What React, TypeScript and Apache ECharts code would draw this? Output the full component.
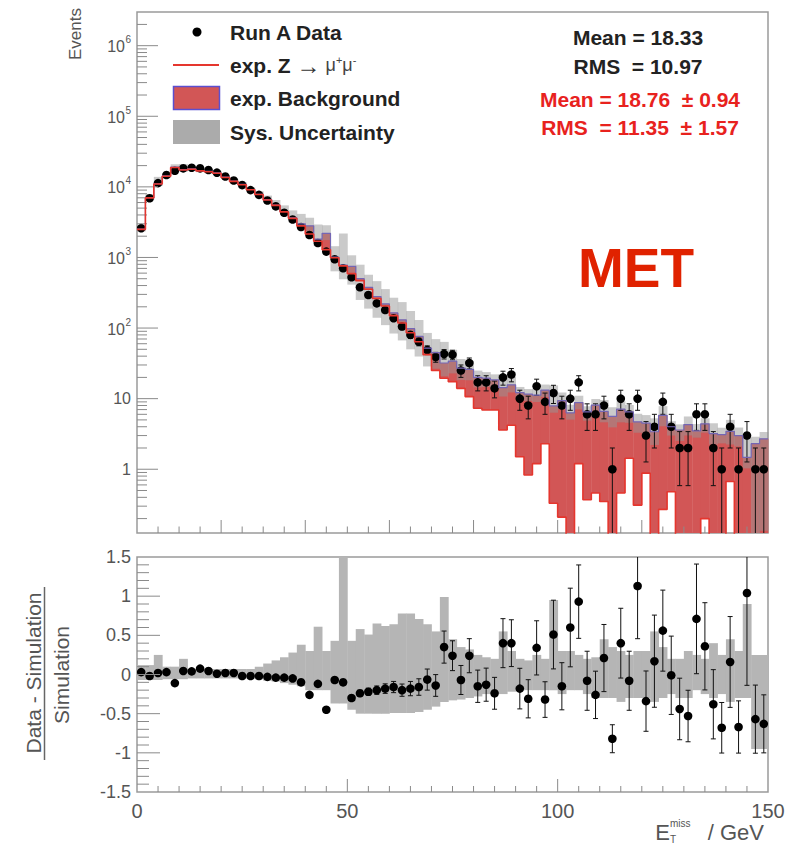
import React, { useEffect, useRef } from 'react';
import * as echarts from 'echarts';

// ---------------- data (75 bins of 2 GeV, 0..150 GeV) ----------------
const BIN_WIDTH = 2;
const X_MIN = 0;
const X_MAX = 150;
const Y_MIN = 0.125;
const Y_MAX = 3e6;
const R_MIN = -1.5;
const R_MAX = 1.5;

const dataCounts = [
  2600, 6900, 11300, 14700, 16900, 18300, 18700, 18300, 17300, 15900,
  14000, 12300, 10600, 9000, 7700, 6400, 5300, 4300, 3450, 2700,
  2080, 1600, 1210, 943, 703, 524, 378, 294, 224, 180,
  138, 105, 80, 64, 49, 39, 43, 42, 25, 32,
  17, 17, 14, 20, 22, 10, 8, 15, 9, 12,
  8, 10, 17, 6, 6, 8, 1, 10, 6, 10,
  3, 4, 9, 4, 2, 2, 6, 6, 2, 1,
  4, 1, 3, 1, 1,
];

// total expectation (Z + background)
const mcTotal = [
  2520, 7040, 11080, 14270, 18990, 17510, 17980, 17020, 16560, 15740,
  13730, 12060, 10820, 9180, 7860, 6600, 5520, 4480, 3630, 3000,
  2810, 1820, 2200, 1010, 780, 750, 500, 377, 280, 220,
  164, 131, 98, 76, 52, 45, 32, 34, 27, 26,
  20, 19.5, 18.4, 14.3, 15.7, 12.2, 11.6, 11.2, 13.2, 7.9,
  9.4, 6.3, 8.8, 6.5, 8.1, 6.6, 5.6, 7.1, 6.5, 4.7,
  4.5, 3.4, 5.8, 4.0, 3.6, 4.3, 3.5, 4.4, 3.2, 3.1,
  3.45, 3.0, 1.47, 2.3, 2.7,
];

// Z -> mu mu expectation alone
const zmumu = [
  2500, 6980, 10980, 14150, 18800, 17350, 17800, 16850, 16400, 15600,
  13600, 11950, 10700, 9100, 7780, 6530, 5460, 4420, 3580, 2800,
  2150, 1700, 1290, 990, 760, 590, 470, 355, 262, 205,
  150, 118, 86, 64, 42, 25, 19.5, 17.4, 14, 10.7,
  7.3, 6.9, 6.9, 3.6, 4.2, 1.5, 0.83, 1.2, 2.3, 0.33,
  0.21, 0, 1.2, 0.37, 0.46, 0.35, 0, 0.46, 1.43, 0.31,
  0.88, 0, 0.27, 0.48, 0, 0, 0, 0.2, 0, 0,
  0.67, 0, 0, 0, 0,
];

// (Data - Simulation) / Simulation
const ratioValues = [
  0.03, -0.02, 0.02, 0.03, -0.11, 0.045, 0.04, 0.075, 0.045, 0.01,
  0.02, 0.02, -0.02, -0.02, -0.02, -0.03, -0.04, -0.04, -0.05, -0.1,
  -0.26, -0.12, -0.45, -0.07, -0.1, -0.3, -0.24, -0.22, -0.2, -0.18,
  -0.16, -0.2, -0.18, -0.16, -0.065, -0.14, 0.35, 0.24, -0.07, 0.24,
  -0.15, -0.13, -0.24, 0.4, 0.4, -0.18, -0.31, 0.34, -0.32, 0.51,
  -0.15, 0.6, 0.93, -0.08, -0.26, 0.21, -0.82, 0.4, -0.08, 1.13,
  -0.34, 0.17, 0.56, -0.01, -0.44, -0.53, 0.71, 0.36, -0.38, -0.68,
  0.16, -0.67, 1.04, -0.57, -0.63,
];

// relative systematic uncertainty (upper / lower)
const sysUp = [
  0.12, 0.12, 0.25, 0.1, 0.1, 0.2, 0.07, 0.07, 0.07, 0.07,
  0.07, 0.07, 0.07, 0.07, 0.1, 0.14, 0.18, 0.22, 0.28, 0.38,
  0.3, 0.61, 0.3, 0.43, 1.8, 0.43, 0.58, 0.51, 0.65, 0.62,
  0.64, 0.78, 0.78, 0.71, 0.64, 0.55, 0.99, 0.45, 0.35, 0.32,
  0.25, 0.22, 0.2, 0.55, 0.3, 0.2, 0.18, 0.25, 0.2, 0.95,
  0.3, 0.3, 0.25, 0.2, 0.22, 0.45, 0.35, 0.3, 0.25, 0.3,
  0.3, 0.55, 0.35, 0.2, 0.2, 0.3, 0.25, 0.2, 0.4, 0.25,
  0.45, 0.3, 0.9, 0.25, 0.25,
];
const sysDown = [
  -0.07, -0.07, -0.07, -0.06, -0.06, -0.06, -0.05, -0.05, -0.05, -0.05,
  -0.05, -0.05, -0.05, -0.05, -0.06, -0.08, -0.09, -0.11, -0.13, -0.15,
  -0.2, -0.2, -0.2, -0.37, -0.37, -0.45, -0.5, -0.5, -0.5, -0.5,
  -0.49, -0.49, -0.49, -0.48, -0.45, -0.41, -0.35, -0.33, -0.32, -0.3,
  -0.28, -0.25, -0.24, -0.25, -0.22, -0.2, -0.2, -0.2, -0.2, -0.2,
  -0.25, -0.2, -0.2, -0.25, -0.3, -0.3, -0.3, -0.35, -0.3, -0.3,
  -0.3, -0.35, -0.3, -0.25, -0.3, -0.3, -0.2, -0.25, -0.3, -0.25,
  -0.35, -0.3, -0.3, -0.95, -0.95,
];

const topYLabels = [1, 10, 100, 1000, 10000, 100000, 1000000];
const legendLabels = ['Run A Data', 'exp. Z', 'exp. Background', 'Sys. Uncertainty'];
const statsData = ['Mean = 18.33', 'RMS  = 10.97'];
const statsSim = ['Mean = 18.76  \u00b1 0.94', 'RMS  = 11.35  \u00b1 1.57'];
const panelTag = 'MET';

// ---------------- styling ----------------
const FONT = '"Liberation Sans", Arial, Helvetica, sans-serif';
const LABEL_COLOR = '#555';
const TICK_COLOR = '#8a8a8a';
const FRAME_COLOR = '#9a9a9a';
const RED_FILL = '#d25656';
const RED_LINE = '#e5362e';
const TOTAL_LINE = '#7466b4';
const STAT_RED = '#e8221e';

const binLow = (i: number) => X_MIN + i * BIN_WIDTH;
const binCenter = (i: number) => binLow(i) + BIN_WIDTH / 2;
const clampLog = (v: number) => Math.min(Math.max(v, Y_MIN), Y_MAX);
const clampR = (v: number) => Math.min(Math.max(v, R_MIN), R_MAX);

const binRect = (fill: string) => (_p: any, api: any) => {
  const x0 = api.value(0);
  const lo = api.value(1);
  const hi = api.value(2);
  const a = api.coord([x0, lo]);
  const b = api.coord([x0 + BIN_WIDTH, hi]);
  const h = a[1] - b[1];
  if (!(h > 0)) return { type: 'group', children: [] };
  return {
    type: 'rect',
    shape: { x: a[0], y: b[1], width: b[0] - a[0] + 0.4, height: h },
    style: { fill },
  };
};

const pointItem = (lowLimit: number, highLimit: number) => (_p: any, api: any) => {
  const x = api.value(0);
  const y = api.value(1);
  const e = api.value(2);
  const loRaw = y - e;
  const hiRaw = y + e;
  const lo = Math.max(loRaw, lowLimit);
  const hi = Math.min(hiRaw, highLimit);
  const c = api.coord([x, Math.min(Math.max(y, lowLimit), highLimit)]);
  const pl = api.coord([x, lo]);
  const ph = api.coord([x, hi]);
  const stroke = { stroke: '#111', lineWidth: 1 };
  const children: any[] = [
    { type: 'line', shape: { x1: c[0], y1: pl[1], x2: c[0], y2: ph[1] }, style: stroke },
  ];
  if (loRaw > lowLimit) children.push({ type: 'line', shape: { x1: c[0] - 2.5, y1: pl[1], x2: c[0] + 2.5, y2: pl[1] }, style: stroke });
  if (hiRaw < highLimit) children.push({ type: 'line', shape: { x1: c[0] - 2.5, y1: ph[1], x2: c[0] + 2.5, y2: ph[1] }, style: stroke });
  children.push({ type: 'circle', shape: { cx: c[0], cy: c[1], r: 4.3 }, style: { fill: '#000' } });
  return { type: 'group', children };
};

const tickItem = (_p: any, api: any) => {
  const p = api.coord([api.value(0), api.value(1)]);
  return {
    type: 'line',
    shape: { x1: p[0], y1: p[1], x2: p[0] + api.value(2), y2: p[1] + api.value(3) },
    style: { stroke: TICK_COLOR, lineWidth: 1 },
  };
};

const txt = (o: any) => ({
  fontFamily: FONT,
  align: o.align,
  textAlign: o.align,
  verticalAlign: o.verticalAlign || 'middle',
  textVerticalAlign: o.verticalAlign || 'middle',
  ...o,
});

function buildOption() {
  const n = dataCounts.length;
  const idx = Array.from({ length: n }, (_, i) => i);

  const stepData = (vals: number[]) => {
    const pts: number[][] = vals.map((v, i) => [binLow(i), Math.max(v, 0.01)]);
    pts.push([binLow(n), Math.max(vals[n - 1], 0.01)]);
    return pts;
  };

  const topTicks: number[][] = [];
  for (let e = -1; e <= 6; e++) {
    const dec = Math.pow(10, e);
    for (let m = 1; m <= 9; m++) {
      const v = dec * m;
      if (v <= Y_MIN || v >= Y_MAX) continue;
      topTicks.push([X_MIN, v, m === 1 ? 21 : 10, 0]);
    }
  }
  for (let k = 1; k < 30; k++) {
    const v = k * 5;
    topTicks.push([v, Y_MIN, 0, v % 20 === 0 ? -13 : -6.5]);
  }
  const botTicks: number[][] = [];
  for (let k = -14; k <= 14; k++) {
    botTicks.push([X_MIN, k / 10, k % 5 === 0 ? 23 : 12, 0]);
  }
  for (let k = 1; k < 30; k++) {
    const v = k * 5;
    botTicks.push([v, R_MIN, 0, v % 50 === 0 ? -13 : -6]);
  }

  const topLabelItem = (_p: any, api: any) => {
    const v = api.value(1);
    const p = api.coord([X_MIN, v]);
    const ex = Math.round(Math.log10(v));
    if (ex <= 1) {
      return {
        type: 'text',
        style: txt({ text: String(v), x: p[0] - 6, y: p[1], align: 'right', fill: LABEL_COLOR, fontSize: 16 }),
      };
    }
    return {
      type: 'group',
      children: [
        { type: 'text', style: txt({ text: '10', x: p[0] - 12, y: p[1] + 1, align: 'right', fill: LABEL_COLOR, fontSize: 16 }) },
        { type: 'text', style: txt({ text: String(ex), x: p[0] - 6, y: p[1] - 6, align: 'right', fill: LABEL_COLOR, fontSize: 10 }) },
      ],
    };
  };

  const graphic: any[] = [
    // legend
    { type: 'circle', shape: { cx: 197, cy: 32, r: 4.5 }, style: { fill: '#000' } },
    { type: 'text', style: txt({ text: legendLabels[0], x: 230, y: 32, align: 'left', fill: '#222', fontSize: 21, fontWeight: 'bold' }) },
    { type: 'line', shape: { x1: 173, y1: 65, x2: 219, y2: 65 }, style: { stroke: RED_LINE, lineWidth: 2 } },
    {
      type: 'text',
      style: txt({
        text: '{b|' + legendLabels[1] + ' }{a|\u2192}{n| \u03bc}{s|+}{n|\u03bc}{s|-}',
        x: 230, y: 65, align: 'left', fill: '#222', fontSize: 21,
        rich: {
          b: { fontSize: 21, fontWeight: 'bold', fontFamily: FONT, fill: '#222', lineHeight: 22 },
          a: { fontSize: 24, fontFamily: FONT, fill: '#333', lineHeight: 22 },
          n: { fontSize: 18, fontFamily: FONT, fill: '#444', lineHeight: 22 },
          s: { fontSize: 11, fontFamily: FONT, fill: '#444', lineHeight: 12, verticalAlign: 'top' },
        },
      }),
    },
    { type: 'rect', shape: { x: 173.5, y: 86.5, width: 46, height: 23 }, style: { fill: RED_FILL, stroke: '#5b4fd0', lineWidth: 1.5 } },
    { type: 'text', style: txt({ text: legendLabels[2], x: 230, y: 98, align: 'left', fill: '#222', fontSize: 21, fontWeight: 'bold' }) },
    { type: 'rect', shape: { x: 173, y: 120, width: 47, height: 24 }, style: { fill: '#ababab' } },
    { type: 'text', style: txt({ text: legendLabels[3], x: 230, y: 132, align: 'left', fill: '#222', fontSize: 21, fontWeight: 'bold' }) },
    // stats
    { type: 'text', style: txt({ text: statsData[0], x: 638, y: 37, align: 'center', fill: '#222', fontSize: 21, fontWeight: 'bold' }) },
    { type: 'text', style: txt({ text: statsData[1], x: 638, y: 66, align: 'center', fill: '#222', fontSize: 21, fontWeight: 'bold' }) },
    { type: 'text', style: txt({ text: statsSim[0], x: 640, y: 99, align: 'center', fill: STAT_RED, fontSize: 21, fontWeight: 'bold' }) },
    { type: 'text', style: txt({ text: statsSim[1], x: 640, y: 127, align: 'center', fill: STAT_RED, fontSize: 21, fontWeight: 'bold' }) },
    // tag
    { type: 'text', style: txt({ text: panelTag, x: 636, y: 268, align: 'center', fill: '#e02200', fontSize: 55, fontWeight: 'bold' }) },
    // axis titles
    { type: 'text', x: 75, y: 8, rotation: Math.PI / 2, style: txt({ text: 'Events', x: 0, y: 0, align: 'right', fill: LABEL_COLOR, fontSize: 17 }) },
    { type: 'text', x: 33, y: 673, rotation: Math.PI / 2, style: txt({ text: 'Data - Simulation', x: 0, y: 0, align: 'center', fill: LABEL_COLOR, fontSize: 21 }) },
    { type: 'line', shape: { x1: 44.5, y1: 587, x2: 44.5, y2: 760 }, style: { stroke: '#666', lineWidth: 1.5 } },
    { type: 'text', x: 61, y: 675, rotation: Math.PI / 2, style: txt({ text: 'Simulation', x: 0, y: 0, align: 'center', fill: LABEL_COLOR, fontSize: 21 }) },
    { type: 'text', style: txt({ text: 'E', x: 670, y: 832, align: 'right', fill: LABEL_COLOR, fontSize: 22 }) },
    { type: 'text', style: txt({ text: 'miss', x: 670, y: 823, align: 'left', fill: LABEL_COLOR, fontSize: 10 }) },
    { type: 'text', style: txt({ text: 'T', x: 670, y: 839, align: 'left', fill: LABEL_COLOR, fontSize: 10 }) },
    { type: 'text', style: txt({ text: '/ GeV', x: 764, y: 832, align: 'right', fill: LABEL_COLOR, fontSize: 22 }) },
  ];

  return {
    animation: false,
    backgroundColor: '#fff',
    grid: [
      { left: 137, top: 12, width: 631, height: 521, show: true, borderColor: FRAME_COLOR, borderWidth: 1.5, backgroundColor: 'transparent' },
      { left: 137, top: 557, width: 631, height: 235, show: true, borderColor: FRAME_COLOR, borderWidth: 1.5, backgroundColor: 'transparent' },
    ],
    xAxis: [
      {
        type: 'value', gridIndex: 0, min: X_MIN, max: X_MAX, interval: 50,
        axisLine: { show: false }, axisTick: { show: false }, splitLine: { show: false }, axisLabel: { show: false },
      },
      {
        type: 'value', gridIndex: 1, min: X_MIN, max: X_MAX, interval: 50,
        axisLine: { show: false }, axisTick: { show: false }, splitLine: { show: false },
        axisLabel: { show: true, color: LABEL_COLOR, fontSize: 20, fontFamily: FONT, margin: 9 },
      },
    ],
    yAxis: [
      {
        type: 'log', gridIndex: 0, min: Y_MIN, max: Y_MAX, logBase: 10,
        axisLine: { show: false }, axisTick: { show: false }, splitLine: { show: false }, axisLabel: { show: false },
      },
      {
        type: 'value', gridIndex: 1, min: R_MIN, max: R_MAX, interval: 0.5,
        axisLine: { show: false }, axisTick: { show: false }, splitLine: { show: false },
        axisLabel: { show: true, color: LABEL_COLOR, fontSize: 18, fontFamily: FONT, margin: 6 },
      },
    ],
    series: [
      // ---- top panel ----
      {
        type: 'custom', name: 'exp. Background', xAxisIndex: 0, yAxisIndex: 0, silent: true,
        data: idx.map((i) => [binLow(i), clampLog(zmumu[i]), clampLog(mcTotal[i])]),
        renderItem: binRect(RED_FILL),
      },
      {
        type: 'custom', name: 'Sys. Uncertainty', xAxisIndex: 0, yAxisIndex: 0, silent: true,
        data: idx.map((i) => [binLow(i), clampLog(mcTotal[i] * (1 + sysDown[i])), clampLog(mcTotal[i] * (1 + sysUp[i]))]),
        renderItem: binRect('rgba(150,150,150,0.5)'),
      },
      {
        type: 'line', name: 'total', xAxisIndex: 0, yAxisIndex: 0, silent: true, step: 'end',
        showSymbol: false, symbol: 'none', data: stepData(mcTotal),
        lineStyle: { color: TOTAL_LINE, width: 1.2 },
      },
      {
        type: 'line', name: 'exp. Z', xAxisIndex: 0, yAxisIndex: 0, silent: true, step: 'end',
        showSymbol: false, symbol: 'none', data: stepData(zmumu),
        lineStyle: { color: RED_LINE, width: 1.6 },
      },
      {
        type: 'custom', name: 'Run A Data', xAxisIndex: 0, yAxisIndex: 0, silent: true,
        data: idx.map((i) => [binCenter(i), dataCounts[i], Math.sqrt(dataCounts[i])]),
        renderItem: pointItem(Y_MIN, Y_MAX),
      },
      {
        type: 'custom', name: 'topTicks', xAxisIndex: 0, yAxisIndex: 0, silent: true,
        data: topTicks, renderItem: tickItem,
      },
      {
        type: 'custom', name: 'topLabels', xAxisIndex: 0, yAxisIndex: 0, silent: true,
        data: topYLabels.map((v) => [X_MIN, v]), renderItem: topLabelItem,
      },
      // ---- ratio panel ----
      {
        type: 'custom', name: 'ratioBand', xAxisIndex: 1, yAxisIndex: 1, silent: true,
        data: idx.map((i) => [binLow(i), clampR(sysDown[i]), clampR(sysUp[i])]),
        renderItem: binRect('#b5b5b5'),
      },
      {
        type: 'custom', name: 'ratio', xAxisIndex: 1, yAxisIndex: 1, silent: true,
        data: idx.map((i) => [binCenter(i), ratioValues[i], Math.sqrt(dataCounts[i]) / mcTotal[i]]),
        renderItem: pointItem(R_MIN, R_MAX),
      },
      {
        type: 'custom', name: 'botTicks', xAxisIndex: 1, yAxisIndex: 1, silent: true,
        data: botTicks, renderItem: tickItem,
      },
    ],
    graphic,
  };
}

export default function App() {
  const ref = useRef<HTMLDivElement>(null);
  useEffect(() => {
    if (!ref.current) return;
    const chart = echarts.init(ref.current, null, { renderer: 'svg' });
    chart.setOption(buildOption() as any);
    return () => chart.dispose();
  }, []);
  return (
    <div
      ref={ref}
      style={{ position: 'absolute', left: 0, top: 0, width: 810, height: 846, background: '#fff' }}
    />
  );
}
